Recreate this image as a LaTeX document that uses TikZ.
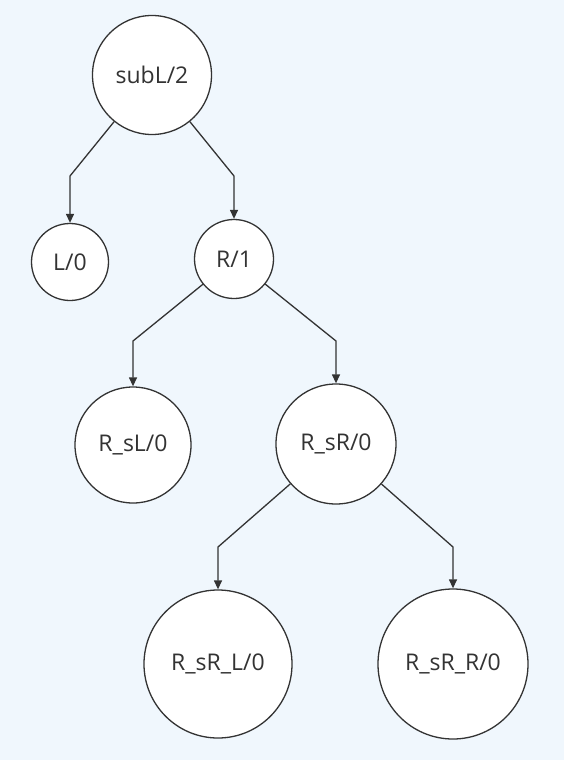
\documentclass[tikz,border=0pt]{standalone}
\usepackage{fontspec}
\setmainfont{Open Sans}
\usetikzlibrary{arrows.meta}
\definecolor{bg}{RGB}{240,247,253}
\definecolor{ln}{RGB}{51,51,51}
\begin{document}
\begin{tikzpicture}[x=1pt,y=-1pt,
  nd/.style={circle,draw=ln,fill=white,line width=1.3pt,inner sep=0pt,font=\fontsize{23}{26}\selectfont,text=ln},
  arr/.style={draw=ln,line width=1.3pt,-{Triangle[length=9pt,width=8pt]}}]
\fill[bg] (0,0) rectangle (564,760);
\useasboundingbox (0,0) rectangle (564,760);
\node[nd,minimum size=119pt] (s) at (152,75) {subL/2};
\node[nd,minimum size=77pt] (l) at (70,262) {L/0};
\node[nd,minimum size=79pt] (r) at (234,259) {R/1};
\node[nd,minimum size=116pt] (rsl) at (133,445) {R\_sL/0};
\node[nd,minimum size=120pt] (rsr) at (336,444) {R\_sR/0};
\node[nd,minimum size=148pt] (rsrl) at (218,664) {R\_sR\_L/0};
\node[nd,minimum size=150pt] (rsrr) at (453,664) {R\_sR\_R/0};
\coordinate (m1) at (70,176);
\coordinate (m2) at (234,176);
\coordinate (m3) at (133,341);
\coordinate (m4) at (336,341);
\coordinate (m5) at (218,547);
\coordinate (m6) at (453,547);
\draw[arr] (s) -- (m1) -- (l);
\draw[arr] (s) -- (m2) -- (r);
\draw[arr] (r) -- (m3) -- (rsl);
\draw[arr] (r) -- (m4) -- (rsr);
\draw[arr] (rsr) -- (m5) -- (rsrl);
\draw[arr] (rsr) -- (m6) -- (rsrr);
\end{tikzpicture}
\end{document}
